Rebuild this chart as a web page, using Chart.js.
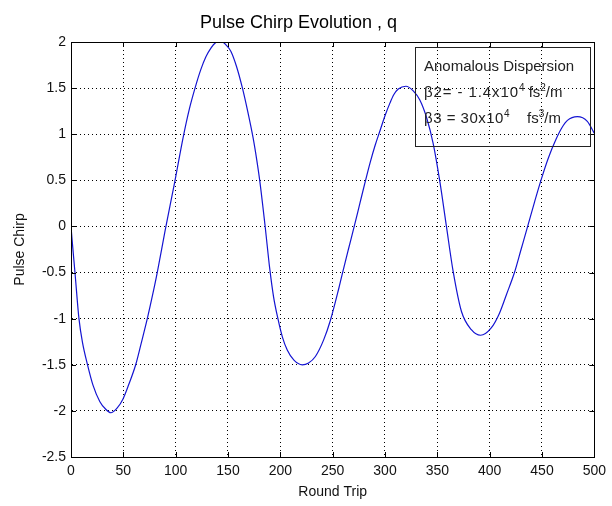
<!DOCTYPE html>
<html>
<head>
<meta charset="utf-8">
<script src="https://cdn.jsdelivr.net/npm/chart.js@4.4.0/dist/chart.umd.min.js"></script>
<style>
  html, body { margin: 0; padding: 0; background: #fff; }
  canvas { display: block; }
</style>
</head>
<body>
<canvas id="chirp" width="612" height="506"></canvas>
<script>
// values
const roundTrip = [0, 1, 3.8, 7.6, 11, 15.8, 21, 27.6, 33, 38, 44, 49.7, 55, 61.8, 67, 72.9, 78, 82.4,
  90, 98.9, 107.4, 113, 118.5, 124, 128.9, 134, 137.8, 143, 148, 152.7, 158, 163.8, 169, 174, 177.5,
  180.3, 185.5, 189.8, 193.5, 197.7, 202, 206.6, 213, 221, 227, 233.5, 241.4, 247.8, 255.9, 259.5, 265,
  270.6, 276, 281, 286, 290.6, 295.3, 300, 304.8, 308.5, 312.7, 320, 327, 333.3, 340, 346, 352.5,
  358.7, 365, 373, 382.5, 391.3, 401.5, 409.4, 416, 423.7, 430, 436.3, 443, 449, 456, 463.2, 469,
  474.3, 483.8, 493.3, 500];
const pulseChirp = [0, -0.14, -0.5, -1.0, -1.26, -1.5, -1.72, -1.9, -1.98, -2.02, -1.97, -1.87, -1.72,
  -1.5, -1.27, -1.0, -0.74, -0.5,
  -0.04, 0.47, 0.98, 1.27, 1.5, 1.7, 1.84, 1.94, 1.99, 2.01, 1.97, 1.9, 1.74, 1.5, 1.24, 0.96, 0.72,
  0.5, 0, -0.45, -0.76, -1.0, -1.2, -1.34, -1.45, -1.5, -1.48, -1.41, -1.23, -1.02, -0.67, -0.5, -0.25,
  0, 0.25, 0.48, 0.7, 0.88, 1.04, 1.2, 1.34, 1.43, 1.49, 1.52, 1.47, 1.37, 1.17, 0.9, 0.48,
  0, -0.48, -0.92, -1.12, -1.18, -1.1, -0.94, -0.74, -0.5, -0.25, 0, 0.27, 0.5, 0.74, 0.94, 1.07,
  1.15, 1.19, 1.14, 1.01];
const xTicks = [0, 50, 100, 150, 200, 250, 300, 350, 400, 450, 500];
const yTicks = [-2.5, -2, -1.5, -1, -0.5, 0, 0.5, 1, 1.5, 2];

const FONT = "'Liberation Sans', Arial, Helvetica, sans-serif";

// draws a line of text, some pieces raised as superscripts
function drawRich(ctx, parts, x, y) {
  parts.forEach(p => {
    if (p.at !== undefined) x = p.at;
    ctx.font = (p.sup ? '10px ' : '15px ') + FONT;
    ctx.letterSpacing = p.spread || '0px';
    ctx.fillText(p.t, x, p.sup ? y - 6 : y);
    x += ctx.measureText(p.t).width;
  });
  ctx.letterSpacing = '0px';
}

// MATLAB style box, inward ticks and the parameter note
const matlabFrame = {
  id: 'matlabFrame',
  afterDraw(chart) {
    const { ctx, chartArea: a, scales: { x, y } } = chart;
    ctx.save();
    ctx.strokeStyle = '#000';
    ctx.lineWidth = 1;
    ctx.setLineDash([]);
    ctx.beginPath();
    xTicks.forEach(v => {
      const px = Math.round(x.getPixelForValue(v)) + 0.5;
      ctx.moveTo(px, a.bottom); ctx.lineTo(px, a.bottom - 5);
      ctx.moveTo(px, a.top); ctx.lineTo(px, a.top + 5);
    });
    yTicks.forEach(v => {
      const py = Math.round(y.getPixelForValue(v)) + 0.5;
      ctx.moveTo(a.left, py); ctx.lineTo(a.left + 5, py);
      ctx.moveTo(a.right, py); ctx.lineTo(a.right - 5, py);
    });
    ctx.stroke();
    ctx.strokeRect(Math.round(a.left) + 0.5, Math.round(a.top) + 0.5,
      Math.round(a.width), Math.round(a.height));

    // note box
    ctx.strokeStyle = '#222';
    ctx.strokeRect(415.5, 47.5, 175, 99);
    ctx.fillStyle = '#222';
    ctx.textBaseline = 'alphabetic';
    drawRich(ctx, [{ t: 'Anomalous Dispersion' }], 424, 71);
    drawRich(ctx, [{ t: 'β2= - 1.4x10', spread: '0.9px' }, { t: '4', sup: true }, { t: ' fs' },
      { t: '2', sup: true }, { t: '/m' }], 424, 97);
    drawRich(ctx, [{ t: 'β3 = 30x10', spread: '0.5px' }, { t: '4', sup: true }, { t: 'fs', at: 527 },
      { t: '3', sup: true }, { t: '/m' }], 424, 123);
    ctx.restore();
  }
};

new Chart(document.getElementById('chirp'), {
  type: 'line',
  data: {
    datasets: [{
      data: roundTrip.map((r, i) => ({ x: r, y: pulseChirp[i] })),
      borderColor: 'rgb(20, 20, 210)',
      borderWidth: 1.2,
      pointRadius: 0,
      cubicInterpolationMode: 'monotone',
      fill: false
    }]
  },
  options: {
    responsive: false,
    animation: false,
    layout: { padding: { left: 0, right: 15, top: 0, bottom: 0 } },
    plugins: {
      legend: { display: false },
      tooltip: { enabled: false },
      title: {
        display: true,
        text: 'Pulse Chirp Evolution , q',
        color: '#000',
        font: { family: FONT, size: 18, weight: 'normal' },
        padding: { top: 12, bottom: 8.4 }
      }
    },
    scales: {
      x: {
        type: 'linear',
        min: 0,
        max: 500,
        afterBuildTicks: s => { s.ticks = xTicks.map(v => ({ value: v })); },
        afterFit: s => { s.height = 49; },
        ticks: { color: '#111', font: { family: FONT, size: 14 }, padding: 6, maxRotation: 0,
          callback: v => String(v) },
        grid: { color: '#000', lineWidth: 1, drawTicks: false },
        border: { color: '#000', dash: [1, 3] },
        title: {
          display: true,
          text: 'Round Trip',
          color: '#111',
          font: { family: FONT, size: 14 },
          padding: { top: 0, bottom: 5.6 }
        }
      },
      y: {
        min: -2.5,
        max: 2,
        afterBuildTicks: s => { s.ticks = yTicks.map(v => ({ value: v })); },
        afterFit: s => { s.width = 71; },
        ticks: { color: '#111', font: { family: FONT, size: 14 }, padding: 5,
          callback: v => String(v) },
        grid: { color: '#000', lineWidth: 1, drawTicks: false },
        border: { color: '#000', dash: [1, 3] },
        title: {
          display: true,
          text: 'Pulse Chirp',
          color: '#111',
          font: { family: FONT, size: 14 },
          padding: { top: 11.6, bottom: 0 }
        }
      }
    }
  },
  plugins: [matlabFrame]
});
</script>
</body>
</html>
